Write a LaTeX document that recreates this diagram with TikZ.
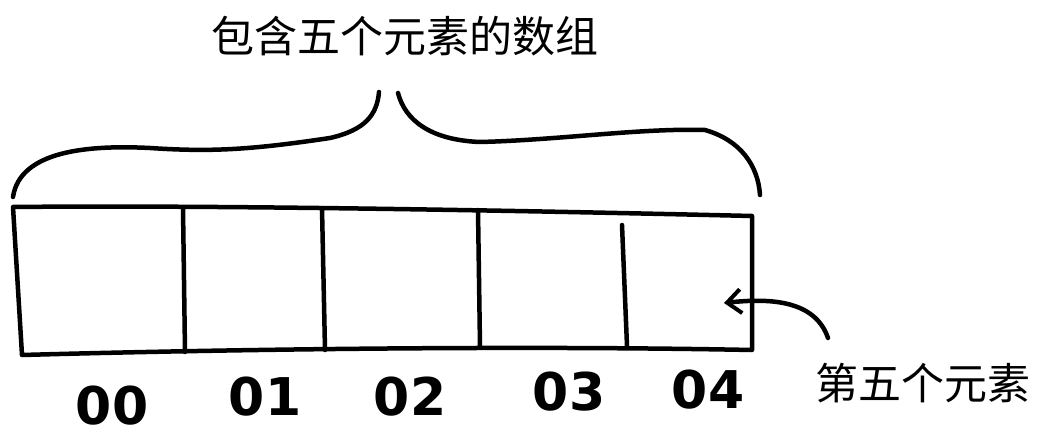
\documentclass[tikz,border=0pt]{standalone}
\usepackage{fontspec}
\newfontfamily\cjk{Noto Sans CJK SC}
\newfontfamily\digitfont{DejaVu Sans}
\usetikzlibrary{arrows.meta}
\tikzset{
  ink/.style={line width=4.5pt, line cap=round, line join=round},
  lbl/.style={font=\digitfont\bfseries\fontsize{52}{56}\selectfont, inner sep=0pt},
  cjklbl/.style={font=\cjk\fontsize{43}{46}\selectfont, inner sep=0pt},
}
\begin{document}
\begin{tikzpicture}[x=1pt,y=-1pt]
\useasboundingbox (0,0) rectangle (1040,438);
% title
\node[cjklbl] (title) at (405,36) {包含五个元素的数组};
% brace
\draw[ink] (13,197) .. controls (20,150) and (90,145) .. (150,148)
  .. controls (210,152) and (250,150) .. (330,138)
  .. controls (365,130) and (377,115) .. (379,92);
\draw[ink] (398,93) .. controls (405,120) and (430,140) .. (480,142)
  .. controls (560,140) and (640,128) .. (705,130)
  .. controls (740,140) and (758,165) .. (760,195);
% array corners
\coordinate (tl) at (13,207);
\coordinate (tr) at (752,216);
\coordinate (br) at (752,350);
\coordinate (bl) at (22,355);
\draw[ink] (tl) .. controls (200,205) and (500,210) .. (tr) -- (br)
  .. controls (500,345) and (200,350) .. (bl) -- cycle;
% dividers
\draw[ink] (183,208) -- (185,352);
\draw[ink] (322,208) -- (325,350);
\draw[ink] (478,210) -- (480,347);
\draw[ink] (622,225) -- (627,346);
% index labels
\node[lbl] (i0) at (112,406) {00};
\node[lbl] (i1) at (265,397) {01};
\node[lbl] (i2) at (410,397) {02};
\node[lbl] (i3) at (569,392) {03};
\node[lbl] (i4) at (708,390) {04};
% fifth element
\node[cjklbl] (fifth) at (923,383) {第五个元素};
\coordinate (from) at (828,338);
\coordinate (to) at (724,303);
\draw[ink, -{Straight Barb[length=14pt,width=24pt,line width=4pt]}]
  (from) .. controls (815,300) and (770,298) .. (to);
\end{tikzpicture}
\end{document}
